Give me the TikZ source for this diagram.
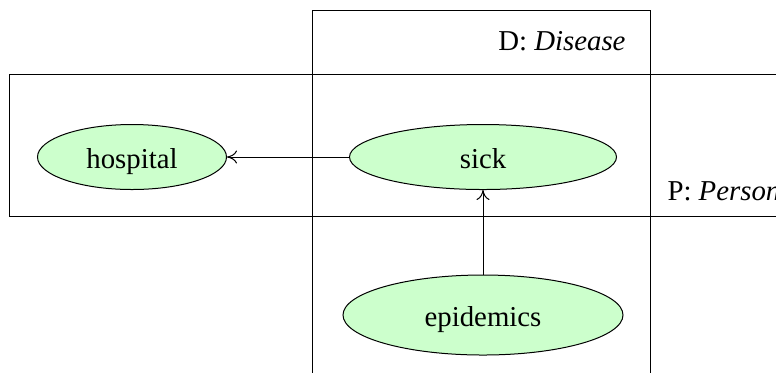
\documentclass[tikz,border=0pt]{standalone}
\usepackage{fontspec}
\setmainfont{Liberation Serif}
\usepackage{tikz}
\usetikzlibrary{shapes,shapes.geometric,arrows,arrows.meta,positioning}
\definecolor{varfill}{RGB}{204,255,204}
\tikzset{
  var/.style={ellipse, draw, fill=varfill, inner sep=0pt, text centered, text height=11.5pt, text depth=0pt, font=\fontsize{14.4}{17}\selectfont},
  plate/.style={draw, line width=0.5pt},
  platelabel/.style={inner sep=0pt, font=\fontsize{14.4}{17}\selectfont}
}

\begin{document}
\begin{tikzpicture}[x=0.5pt, y=-0.5pt, >={To[length=5pt, width=6.5pt]}, line width=0.5pt]
  \useasboundingbox (0,0) rectangle (776,372);
  % plates
  \coordinate (dtl) at (312,10);
  \coordinate (dbr) at (650,390);
  \coordinate (ptl) at (9,74);
  \coordinate (pbr) at (800,216);
  \draw[plate] (dtl) rectangle (dbr);
  \draw[plate] (ptl) rectangle (pbr);
  \node[platelabel, anchor=base east] (dlabel) at (626,50) {D: \textit{Disease}};
  \node[platelabel, anchor=base west] (plabel) at (667,200) {P: \textit{Person}};
  % variables
  \node[var, minimum width=94.5pt, minimum height=32.5pt] (hospital) at (132,157) {hospital};
  \node[var, minimum width=133.5pt, minimum height=32.5pt] (sick) at (483,157) {sick};
  \node[var, minimum width=140pt, minimum height=40pt] (epidemics) at (483,315) {epidemics};
  \draw[->] (sick) -- (hospital);
  \draw[->] (epidemics) -- (sick);
\end{tikzpicture}
\end{document}
